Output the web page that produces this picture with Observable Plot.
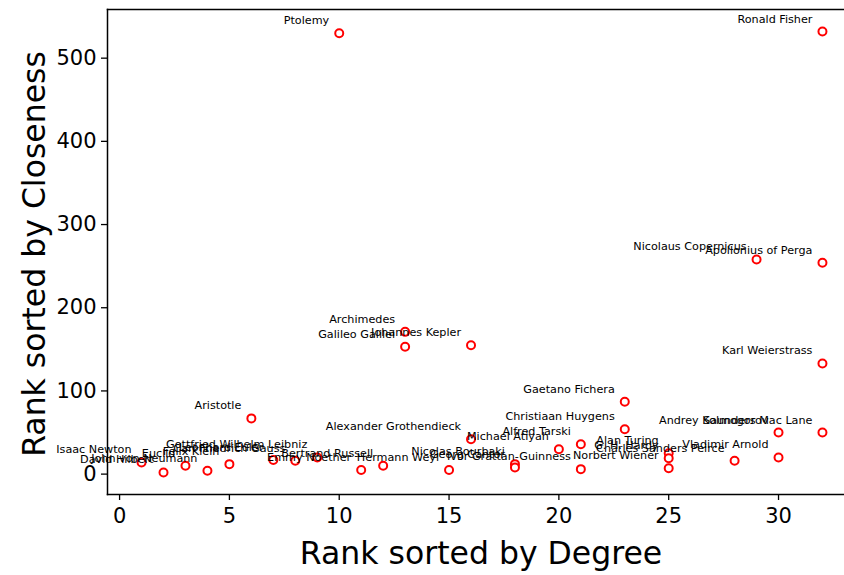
<!DOCTYPE html>
<html>
<head>
<meta charset="utf-8">
<script src="https://cdn.jsdelivr.net/npm/d3@7"></script>
<script src="https://cdn.jsdelivr.net/npm/@observablehq/plot@0.6"></script>
<style>
  html, body { margin: 0; padding: 0; background: #fff; overflow: hidden; }
  #chart svg { overflow: hidden; font-family: "DejaVu Sans", sans-serif; }
</style>
</head>
<body>
<div id="chart"></div>
<script>
const names = [
  "Isaac Newton", "David Hilbert", "Euclid", "John von Neumann", "Felix Klein",
  "Aristotle", "Leonhard Euler", "Carl Friedrich Gauss", "Gottfried Wilhelm Leibniz", "Ptolemy",
  "Emmy Noether", "Bertrand Russell", "Archimedes", "Galileo Galilei", "Hermann Weyl",
  "Johannes Kepler", "Alexander Grothendieck", "Nicolas Bourbaki", "Georg Cantor", "Michael Atiyah",
  "Alfred Tarski", "Ivor Grattan-Guinness", "Gaetano Fichera", "Christiaan Huygens", "Alan Turing",
  "G. H. Hardy", "Norbert Wiener", "Charles Sanders Peirce", "Nicolaus Copernicus", "Andrey Kolmogorov",
  "Vladimir Arnold", "Ronald Fisher", "Apollonius of Perga", "Karl Weierstrass", "Saunders Mac Lane"
];
const degreeRank = [
  1, 2, 3, 4, 5,
  6, 7, 8, 9, 10,
  11, 12, 13, 13, 15,
  16, 16, 18, 18, 20,
  21, 21, 23, 23, 25,
  25, 25, 28, 29, 30,
  30, 32, 32, 32, 32
];
const closenessRank = [
  14, 2, 10, 4, 12,
  67, 17, 16, 20, 530,
  5, 10, 171, 153, 5,
  155, 42, 12, 8, 30,
  36, 6, 87, 54, 25,
  19, 7, 16, 258, 50,
  20, 532, 254, 133, 50
];
const xTicks = [0, 5, 10, 15, 20, 25, 30];
const yTicks = [0, 100, 200, 300, 400, 500];

const data = names.map((n, i) => ({name: n, degree: degreeRank[i], closeness: closenessRank[i]}));

const chart = Plot.plot({
  width: 844,
  height: 575,
  marginLeft: 107,
  marginTop: 9,
  marginBottom: 81,
  marginRight: 0,
  style: {fontFamily: "'DejaVu Sans', sans-serif", background: "#fff", overflow: "hidden"},
  x: {domain: [-0.55, 33.55], range: [107, 856]},
  y: {domain: [-24.5, 558.5]},
  marks: [
    Plot.axisX({ticks: xTicks, tickSize: 6, tickPadding: 8, fontSize: 21, label: null, stroke: "#000", strokeWidth: 1.3, color: "#000"}),
    Plot.axisY({ticks: yTicks, tickSize: 6, tickPadding: 5, fontSize: 21, label: null, stroke: "#000", strokeWidth: 1.3, color: "#000"}),
    Plot.frame({anchor: "left", stroke: "#000", strokeWidth: 1.5}),
    Plot.frame({anchor: "top", stroke: "#000", strokeWidth: 1.5}),
    Plot.frame({anchor: "bottom", stroke: "#000", strokeWidth: 1.5}),
    Plot.dot(data, {x: "degree", y: "closeness", r: 4, stroke: "#ff0000", strokeWidth: 2, fill: "#fff"}),
    Plot.text(data, {x: "degree", y: "closeness", text: "name", textAnchor: "end", lineAnchor: "bottom", dx: -10, dy: -9, fontSize: 11.2, fill: "#000"}),
    Plot.text(["Rank sorted by Degree"], {text: d => d, frameAnchor: "bottom", dx: 5, dy: 59, fontSize: 31.5, lineAnchor: "middle", textAnchor: "middle", fill: "#000"}),
    Plot.text(["Rank sorted by Closeness"], {text: d => d, frameAnchor: "left", dx: -73, dy: 2, rotate: -90, fontSize: 31.5, lineAnchor: "middle", textAnchor: "middle", fill: "#000"})
  ]
});
document.getElementById("chart").appendChild(chart);
</script>
</body>
</html>
